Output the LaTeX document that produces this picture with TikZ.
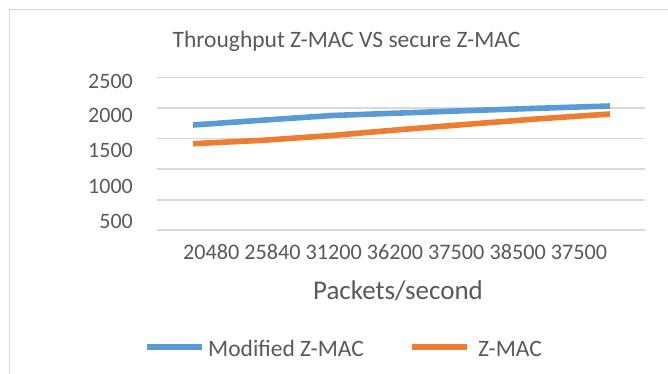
\documentclass[tikz,border=0pt]{standalone}
\usepackage{fontspec}
\setmainfont{Carlito}
\definecolor{txt}{HTML}{595959}
\definecolor{gridc}{HTML}{D9D9D9}
\definecolor{serblue}{HTML}{5B9BD5}
\definecolor{serorange}{HTML}{ED7D31}
\begin{document}
\begin{tikzpicture}[x=1pt,y=-1pt,
  lbl/.style={text=txt, inner sep=0pt, font=\fontsize{22}{26}\selectfont},
  biglbl/.style={text=txt, inner sep=0pt, font=\fontsize{23.5}{28}\selectfont},
  axlbl/.style={text=txt, inner sep=0pt, font=\fontsize{27}{32}\selectfont},
  gridline/.style={draw=gridc, line width=1.6pt},
  series/.style={line width=5.6pt, line join=round, line cap=butt}]
\useasboundingbox (0,0) rectangle (668,374);
% frame
\draw[gridline] (9.5,374) -- (9.5,9.5) -- (668,9.5);
% title
\node[biglbl, anchor=base] (title) at (346.5,47.5) {Throughput Z-MAC VS secure Z-MAC};
% gridlines
\foreach \y in {77.7,108.3,138.5,169,199.7,229.7}
  \draw[gridline] (157,\y) -- (645,\y);
% y labels
\node[lbl, anchor=base east] (y2500) at (133,88.5) {2500};
\node[lbl, anchor=base east] (y2000) at (133,122.5) {2000};
\node[lbl, anchor=base east] (y1500) at (133,157.5) {1500};
\node[lbl, anchor=base east] (y1000) at (133,193) {1000};
\node[lbl, anchor=base east] (y500) at (133,228.5) {500};
% x labels
\node[lbl, font=\fontsize{22.2}{26}\selectfont, anchor=base] (xlabels) at (395,259) {20480 25840 31200 36200 37500 38500 37500};
\node[axlbl, anchor=base] (xtitle) at (398,299.5) {Packets/second};
% series
\draw[series, serblue] (193,125) -- (262.5,120.2) -- (332,115.5) -- (401.5,113) -- (471,110.5) -- (540.5,108.2) -- (610,106);
\draw[series, serorange] (193,143.7) -- (262.5,140.3) -- (332,135.5) -- (401.5,129.5) -- (471,124) -- (540.5,118.7) -- (610,114);
% legend
\coordinate (lb1) at (147,347);
\coordinate (lb2) at (202,347);
\draw[series, serblue] (lb1) -- (lb2);
\node[biglbl, anchor=base west] (leg1) at (208,356) {Modified Z-MAC};
\coordinate (lo1) at (412,347);
\coordinate (lo2) at (467,347);
\draw[series, serorange] (lo1) -- (lo2);
\node[biglbl, anchor=base west] (leg2) at (478,356) {Z-MAC};
\end{tikzpicture}
\end{document}
